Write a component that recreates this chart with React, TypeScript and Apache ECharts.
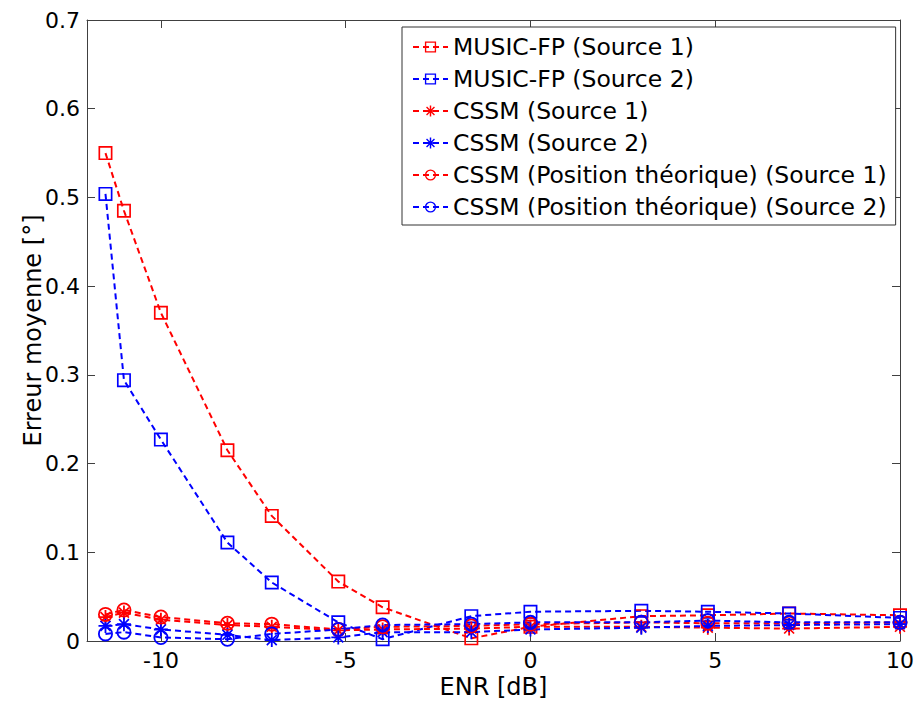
import React, { useEffect, useRef } from "react";
import * as echarts from "echarts";

// ENR values (dB)
const enr = [-11.5, -11, -10, -8.2, -7, -5.2, -4, -1.6, 0, 3, 4.8, 7, 10];

// Mean error values (degrees)
const musicS1 = [0.55, 0.485, 0.37, 0.215, 0.141, 0.067, 0.038, 0.003, 0.016, 0.028, 0.029, 0.031, 0.029];
const musicS2 = [0.504, 0.294, 0.227, 0.111, 0.066, 0.021, 0.002, 0.028, 0.033, 0.034, 0.033, 0.031, 0.026];
const cssmS1 = [0.027, 0.032, 0.024, 0.018, 0.016, 0.012, 0.013, 0.014, 0.016, 0.016, 0.015, 0.014, 0.016];
const cssmS2 = [0.017, 0.019, 0.013, 0.007, 0.001, 0.004, 0.01, 0.01, 0.013, 0.015, 0.017, 0.018, 0.019];
const posS1 = [0.03, 0.035, 0.027, 0.02, 0.019, 0.013, 0.016, 0.017, 0.019, 0.021, 0.02, 0.02, 0.021];
const posS2 = [0.008, 0.01, 0.004, 0.002, 0.008, 0.013, 0.018, 0.019, 0.021, 0.021, 0.023, 0.021, 0.021];

const xTicks = [-10, -5, 0, 5, 10];
const seriesNames = [
  "MUSIC-FP (Source 1)",
  "MUSIC-FP (Source 2)",
  "CSSM (Source 1)",
  "CSSM (Source 2)",
  "CSSM (Position théorique) (Source 1)",
  "CSSM (Position théorique) (Source 2)",
];

const RED = "#ff0000";
const BLUE = "#0000ff";
const FONT = "DejaVu Sans";

const SQUARE =
  "path://M-10,-10L10,-10L10,10L-10,10Z M-7.6,-7.6L-7.6,7.6L7.6,7.6L7.6,-7.6Z";
const CIRCLE =
  "path://M-10,0A10,10,0,1,0,10,0A10,10,0,1,0,-10,0Z M-7.6,0A7.6,7.6,0,1,1,7.6,0A7.6,7.6,0,1,1,-7.6,0Z";
const STAR =
  "path://M-1.3,-10L1.3,-10L1.3,10L-1.3,10Z M-10,-1.3L10,-1.3L10,1.3L-10,1.3Z " +
  "M-7.92,-6.22L-6.22,-7.92L7.92,6.22L6.22,7.92Z M6.22,-7.92L7.92,-6.22L-6.22,7.92L-7.92,6.22Z";

function mk(name: string, data: number[], color: string, symbol: string, size: number) {
  return {
    name,
    type: "line",
    data: enr.map((x, i) => [x, data[i]]),
    symbol,
    symbolSize: size,
    symbolKeepAspect: true,
    showSymbol: true,
    lineStyle: { color, width: 2, type: [6, 4] },
    itemStyle: { color, borderWidth: 0 },
    emphasis: { disabled: true },
  };
}

export default function App() {
  const ref = useRef<HTMLDivElement>(null);
  useEffect(() => {
    if (!ref.current) return;
    const chart = echarts.init(ref.current, undefined, { renderer: "svg" });
    const axisLine = { show: true, onZero: false, lineStyle: { color: "#404040", width: 1 } };
    const tick = { show: true, inside: true, length: 8, lineStyle: { color: "#404040" } };
    chart.setOption({
      animation: false,
      backgroundColor: "#ffffff",
      grid: { left: 87, right: 17, top: 20, bottom: 62, containLabel: false },
      xAxis: [
        {
          type: "value",
          min: -12,
          max: 10,
          position: "bottom",
          axisLine,
          axisTick: { ...tick, customValues: xTicks },
          axisLabel: { customValues: xTicks, fontSize: 22, fontFamily: FONT, color: "#000", margin: 8 },
          splitLine: { show: false },
          name: "ENR [dB]",
          nameLocation: "middle",
          nameGap: 34,
          nameMoveOverlap: false,
          nameTextStyle: { fontSize: 24, fontFamily: FONT, color: "#000" },
        },
        {
          type: "value",
          min: -12,
          max: 10,
          position: "top",
          axisLine,
          axisTick: { ...tick, customValues: xTicks },
          axisLabel: { show: false, customValues: xTicks },
          splitLine: { show: false },
        },
      ],
      yAxis: [
        {
          type: "value",
          min: 0,
          max: 0.7,
          interval: 0.1,
          position: "left",
          axisLine,
          axisTick: tick,
          axisLabel: { fontSize: 22, fontFamily: FONT, color: "#000", margin: 7 },
          splitLine: { show: false },
          name: "Erreur moyenne [°]",
          nameLocation: "middle",
          nameGap: 42,
          nameMoveOverlap: false,
          nameTextStyle: { fontSize: 24, fontFamily: FONT, color: "#000" },
        },
        {
          type: "value",
          min: 0,
          max: 0.7,
          interval: 0.1,
          position: "right",
          axisLine,
          axisTick: tick,
          axisLabel: { show: false },
          splitLine: { show: false },
        },
      ],
      legend: {
        orient: "vertical",
        left: 402,
        top: 27,
        align: "left",
        itemWidth: 35,
        itemHeight: 14,
        itemGap: 8,
        padding: [8, 9, 6, 10],
        borderColor: "#333",
        borderWidth: 1,
        backgroundColor: "#ffffff",
        textStyle: { fontSize: 23.5, fontFamily: FONT, color: "#000" },
        data: seriesNames,
      },
      series: [
        mk(seriesNames[0], musicS1, RED, SQUARE, 14),
        mk(seriesNames[1], musicS2, BLUE, SQUARE, 14),
        mk(seriesNames[2], cssmS1, RED, STAR, 14),
        mk(seriesNames[3], cssmS2, BLUE, STAR, 14),
        mk(seriesNames[4], posS1, RED, CIRCLE, 15),
        mk(seriesNames[5], posS2, BLUE, CIRCLE, 15),
      ],
    });
    return () => chart.dispose();
  }, []);
  return (
    <div
      ref={ref}
      style={{ position: "fixed", left: 0, top: 0, width: 917, height: 704, background: "#fff" }}
    />
  );
}
